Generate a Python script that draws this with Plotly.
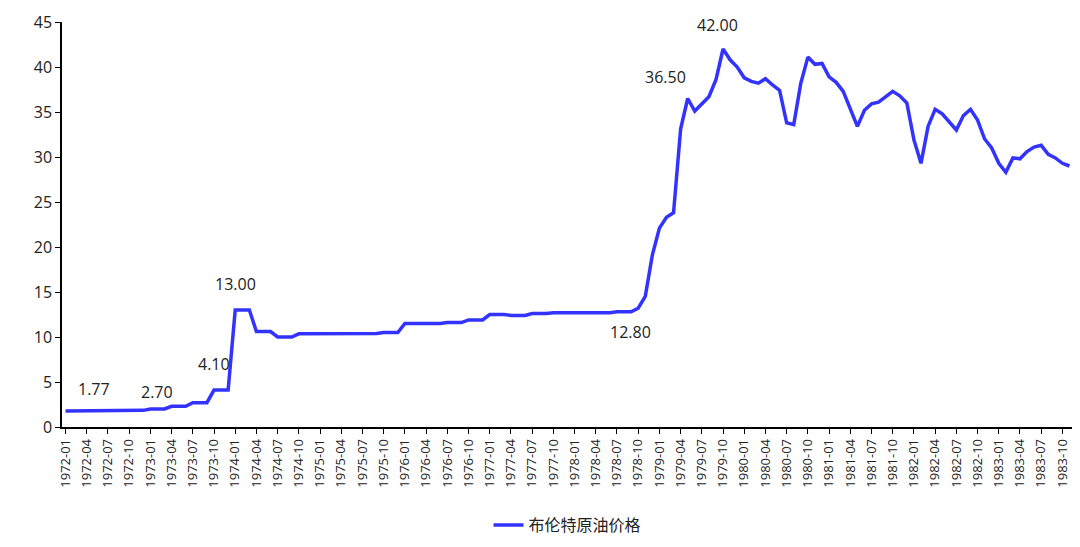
import plotly.graph_objects as go

months = [f"{y}-{m:02d}" for y in range(1972, 1984) for m in range(1, 13)][:143]
prices = (
    [1.77]*6 + [1.82]*3 + [1.85]*3 +
    [2.0]*3 + [2.3]*3 + [2.7]*3 + [4.1]*3 +
    [13.0]*3 + [10.6]*3 + [10.0]*3 + [10.35]*3 +
    [10.4]*9 + [10.5]*3 +
    [11.5]*6 + [11.6]*3 + [11.9]*3 +
    [12.5]*3 + [12.4]*3 + [12.6]*3 + [12.7]*3 +
    [12.7]*6 + [12.8]*3 +
    [13.2, 14.5, 19.1,
     22.1, 23.3, 23.8, 33.1, 36.5, 35.1, 35.9, 36.7, 38.6, 42.0, 40.8, 40.0,
     38.8, 38.4, 38.2, 38.7, 38.0, 37.4, 33.8, 33.6, 38.2, 41.1, 40.3, 40.4,
     38.9, 38.3, 37.3, 35.4, 33.4, 35.2, 35.9, 36.1, 36.7, 37.3, 36.8, 36.0,
     31.9, 29.3, 33.4, 35.3, 34.8, 33.9, 33.0, 34.6, 35.3, 34.1, 32.0, 31.0,
     29.3, 28.3, 29.9, 29.8, 30.6, 31.1, 31.3, 30.3, 29.9, 29.3, 29.0]
)
tick_labels = months[::3]
labels = [(4, "1.77", 0, 22), (16, "2.70", -22, 14), (21, "4.10", 0, 26),
          (24, "13.00", 0, 26), (81, "12.80", -8, -24), (88, "36.50", -22, 22),
          (93, "42.00", -6, 24)]

fig = go.Figure(go.Scatter(x=months, y=prices, mode="lines", name="布伦特原油价格",
                           line=dict(color="#3333FF", width=3.5)))
for i, t, ax, ay in labels:
    fig.add_annotation(x=months[i], y=prices[i], text=t, showarrow=False,
                       xshift=ax, yshift=ay, font=dict(size=16, color="#222"))
fig.update_layout(
    width=1080, height=547, plot_bgcolor="white", paper_bgcolor="white",
    margin=dict(l=54, r=15, t=14, b=128, autoexpand=False),
    font=dict(family="Open Sans, Noto Sans CJK SC", size=15, color="#222"),
    showlegend=True,
    legend=dict(orientation="h", x=0.5, xanchor="center", y=-0.2, yanchor="top",
                font=dict(family="Noto Sans CJK SC", size=16)),
)
fig.update_xaxes(type="category", tickmode="array", tickvals=tick_labels, ticktext=tick_labels,
                 tickangle=-90, showline=True, linecolor="black", linewidth=1.5,
                 ticks="outside", ticklen=5, tickcolor="black", showgrid=False,
                 range=[-0.5, 142.5], tickfont=dict(size=13), automargin=False)
fig.update_yaxes(range=[0, 45], dtick=5, showline=True, linecolor="black", linewidth=1.5,
                 ticks="outside", ticklen=5, tickcolor="black", showgrid=False, zeroline=False,
                 tickfont=dict(size=16), automargin=False)
fig.write_html("out.html")
